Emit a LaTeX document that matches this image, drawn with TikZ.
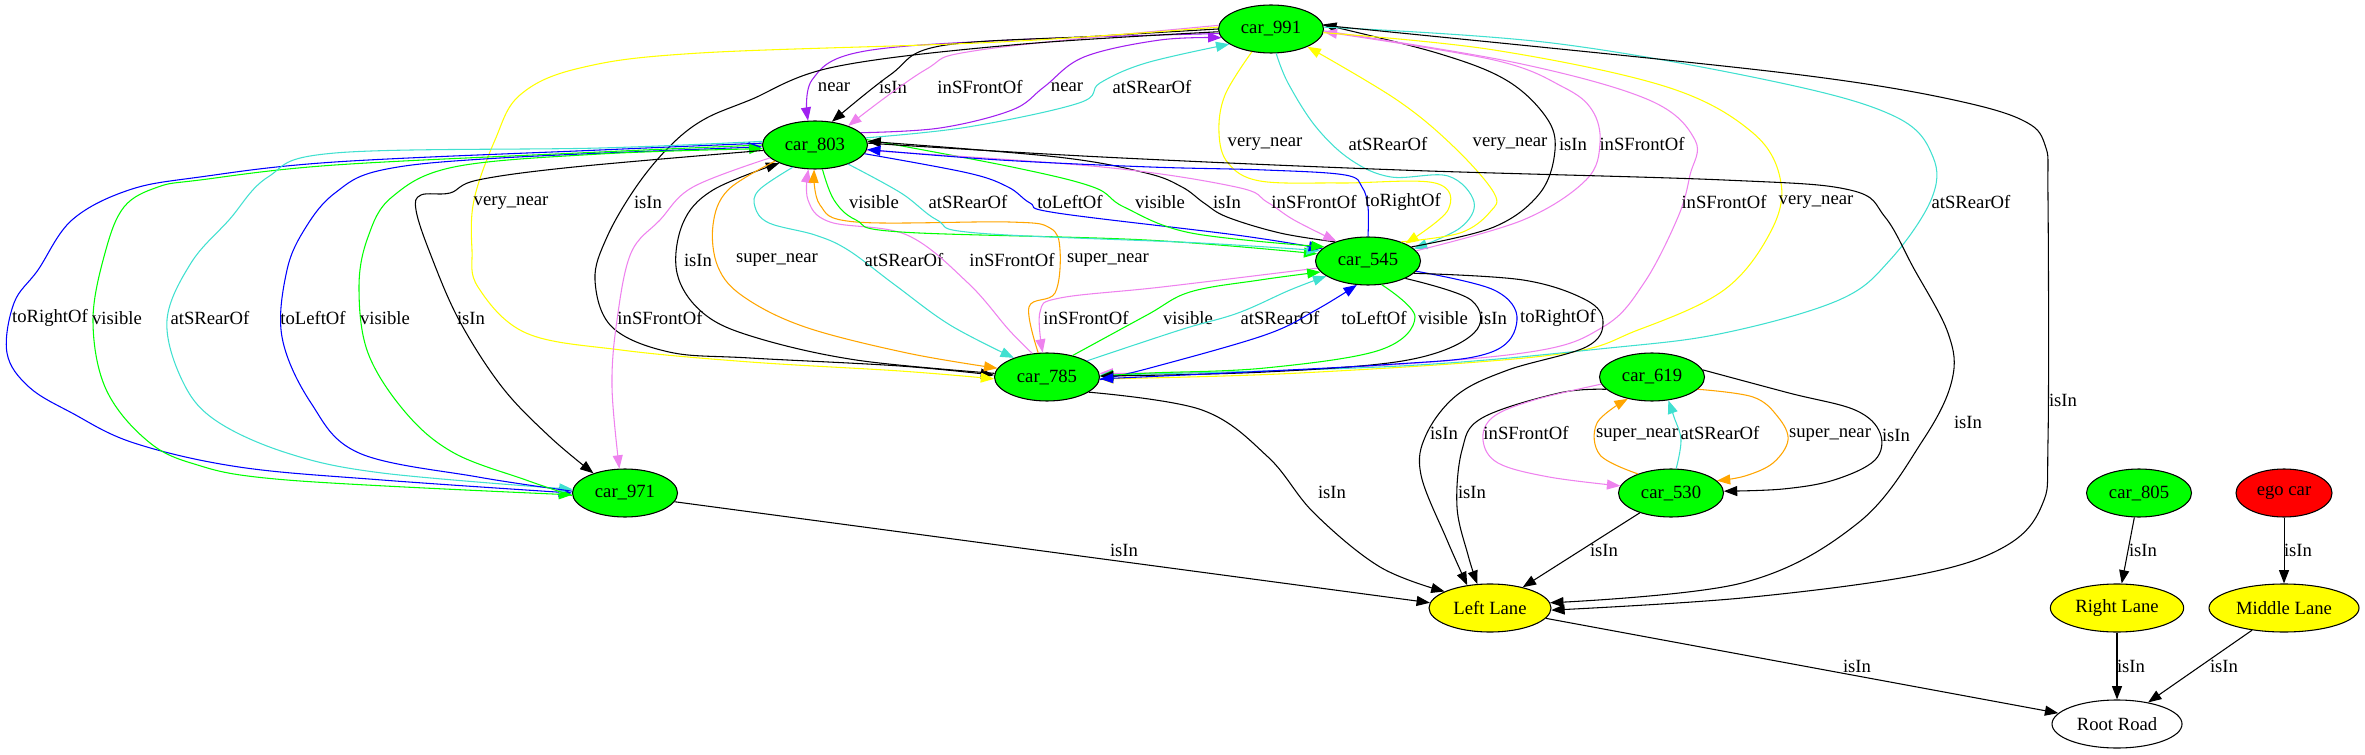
\documentclass[tikz,border=0pt]{standalone}
\usepackage{fontspec}
\setmainfont{Liberation Serif}
\usetikzlibrary{shapes.geometric}
\usetikzlibrary{arrows.meta}
\definecolor{VertAuto}{rgb}{0,1,0}
\definecolor{Jaune}{rgb}{1,1,0}
\definecolor{RougeEgo}{rgb}{1,0,0}
\definecolor{Turquoise}{RGB}{64,224,208}
\definecolor{Violet}{RGB}{238,130,238}
\definecolor{Pourpre}{RGB}{160,32,240}
\definecolor{Orange}{RGB}{255,165,0}
\definecolor{Bleu}{rgb}{0,0,1}
\tikzstyle{noeud}   =[ellipse, draw, line width=0.8pt, minimum height=36pt, inner sep=0pt]
\tikzstyle{voiture} =[noeud, fill=VertAuto, minimum width=78.75pt]
\tikzstyle{voie}    =[noeud, fill=Jaune]
\tikzstyle{lien}    =[-{Triangle[length=10pt,width=7.5pt]}, line width=0.8pt]
\tikzstyle{courbe}  =[smooth, tension=0.6]
\tikzstyle{etiq}    =[inner sep=0pt]
\begin{document}
\begin{tikzpicture}[x=0.75pt, y=-0.75pt, font=\fontsize{14}{16}\selectfont]
 \useasboundingbox (0,0) rectangle (2365,755);
 % les noeuds
 \node[voiture] (c991) at (1271,29) {car\_991};
 \node[voiture] (c803) at (815,145) {car\_803};
 \node[voiture] (c545) at (1368,261) {car\_545};
 \node[voiture] (c785) at (1047,377) {car\_785};
 \node[voiture] (c619) at (1652,377) {car\_619};
 \node[voiture] (c971) at (625,493) {car\_971};
 \node[voiture] (c530) at (1671,493) {car\_530};
 \node[voiture] (c805) at (2139,493) {car\_805};
 \node[noeud, fill=RougeEgo, minimum width=72pt] (ego) at (2284,493) {ego car};
 \node[voie, minimum width=91.5pt] (gauche) at (1490,608) {Left Lane};
 \node[voie, minimum width=100pt] (droite) at (2117,608) {Right Lane};
 \node[voie, minimum width=112.5pt] (milieu) at (2284,608) {Middle Lane};
 \node[noeud, minimum width=97.5pt] (route) at (2117,724) {Root Road};
 % car_991 -- car_803
 \draw[lien,Pourpre] plot[courbe] coordinates {(c991.185) (1012,40) (860,52) (812,80) (c803.106)} node[etiq,black] (t1) at (834,87) {near};
 \draw[lien] plot[courbe] coordinates {(c991.180) (1100,36) (940,46) (890,75) (c803.54)} node[etiq] (t2) at (893,87) {isIn};
 \draw[lien,Violet] plot[courbe] coordinates {(c991.176) (980,50) (925,70) (c803.30)} node[etiq,black] (t3) at (980,87) {inSFrontOf};
 \draw[lien,Pourpre] plot[courbe] coordinates {(c803.15) (940,128) (1012,110) (1044,87) (1084,57) (1160,40) (c991.190)} node[etiq,black] (t4) at (1067,87) {near};
 \draw[lien,Turquoise] plot[courbe] coordinates {(c803.8) (968,127) (1079,103) (1100,83) (1146,63) (c991.200)} node[etiq,black] (t5) at (1152,87) {atSRearOf};
 % car_991 -- car_545
 \draw[lien,Jaune] plot[courbe] coordinates {(c991.230) (1225,95) (1219,133) (1228,163) (1260,181) (1340,183) (1435,183) (1448,210) (c545.25)} node[etiq,black] (t6) at (1265,144) {very\_near};
 \draw[lien,Turquoise] plot[courbe] coordinates {(c991.282) (1288,83) (1316,127) (1351,160) (1391,177) (1448,176) (1474,202) (1460,228) (c545.15)} node[etiq,black] (t7) at (1388,144) {atSRearOf};
 \draw[lien,Jaune] plot[courbe] coordinates {(c545.30) (1460,233) (1490,212) (1494,193) (1454,147) (1397,100) (c991.334)} node[etiq,black] (t8) at (1510,144) {very\_near};
 \draw[lien] plot[courbe] coordinates {(c545.18) (1494,227) (1540,193) (1555,150) (1546,117) (1506,80) (1437,53) (c991.5)} node[etiq] (t9) at (1573,144) {isIn};
 \draw[lien,Violet] plot[courbe] coordinates {(c545.12) (1523,220) (1586,180) (1600,143) (1592,110) (1563,87) (1494,60) (c991.357)} node[etiq,black] (t10) at (1642,144) {inSFrontOf};
 % car_991 -- car_785 et Left Lane
 \draw[lien,Violet] plot[courbe] coordinates {(c991.358) (1517,63) (1649,100) (1695,140) (1690,175) (1678,217) (1644,283) (1603,327) (1523,353) (1300,370) (c785.4)} node[etiq,black] (t11) at (1724,202) {inSFrontOf};
 \draw[lien,Jaune] plot[courbe] coordinates {(c991.356) (1494,50) (1667,87) (1753,133) (1781,183) (1770,233) (1724,290) (1638,330) (1552,355) (1300,373) (c785.358)} node[etiq,black] (t12) at (1816,202) {very\_near};
 \draw[lien,Turquoise] plot[courbe] coordinates {(c991.2) (1552,43) (1781,83) (1896,117) (1933,157) (1931,200) (1890,260) (1839,300) (1724,333) (1609,348) (1400,366) (c785.2)} node[etiq,black] (t13) at (1971,202) {atSRearOf};
 \draw[lien] plot[courbe] coordinates {(c991.4) (1667,60) (1839,80) (1954,100) (2022,120) (2045,145) (2048,200) (2048,440) (2042,505) (2004,547) (1917,575) (1742,598) (gauche.358)} node[etiq] (t14) at (2063,400) {isIn};
 \draw[lien] plot[courbe] coordinates {(c991.183) (1012,45) (834,67) (750,100) (703,120) (669,147) (636,187) (607,237) (595,280) (612,327) (669,352) (750,358) (900,366) (c785.178)} node[etiq] (t15) at (648,202) {isIn};
 \draw[lien,Jaune] plot[courbe] coordinates {(c991.178) (1000,42) (700,53) (580,68) (520,95) (495,140) (474,200) (472,250) (478,287) (526,333) (621,350) (750,362) (900,371) (c785.182)} node[etiq,black] (t16) at (511,203) {very\_near};
 % car_803 -- car_971
 \draw[lien,Bleu] plot[courbe] coordinates {(c803.178) (600,150) (335,162) (200,177) (129,190) (72,220) (38,270) (14,303) (7,353) (29,387) (72,413) (134,443) (239,467) (382,480) (c971.180)} node[etiq,black] (t17) at (50,318) {toRightOf};
 \draw[lien,VertAuto] plot[courbe] coordinates {(c803.180) (600,152) (335,165) (200,180) (158,187) (124,207) (105,253) (93,320) (105,387) (143,437) (191,463) (287,480) (c971.182)} node[etiq,black] (t18) at (117,318) {visible};
 \draw[lien,Turquoise] plot[courbe] coordinates {(c803.176) (600,148) (335,153) (268,177) (229,220) (191,263) (167,320) (182,380) (215,420) (287,453) (382,473) (c971.176)} node[etiq,black] (t19) at (210,318) {atSRearOf};
 \draw[lien,Bleu] plot[courbe] coordinates {(c971.178) (478,477) (359,453) (311,403) (282,337) (287,270) (306,227) (335,193) (382,170) (500,158) (c803.182)} node[etiq,black] (t20) at (313,318) {toLeftOf};
 \draw[lien,VertAuto] plot[courbe] coordinates {(c971.183) (526,480) (454,453) (406,413) (368,353) (359,287) (368,237) (392,197) (454,167) (600,154) (c803.184)} node[etiq,black] (t21) at (385,318) {visible};
 \draw[lien] plot[courbe] coordinates {(c803.186) (574,167) (478,180) (450,193) (421,195) (416,210) (430,253) (459,320) (502,387) (550,437) (c971.148)} node[etiq] (t22) at (471,318) {isIn};
 \draw[lien,Violet] plot[courbe] coordinates {(c803.196) (693,187) (660,220) (631,253) (617,320) (612,387) (c971.103)} node[etiq,black] (t23) at (660,318) {inSFrontOf};
 % car_803 -- car_785
 \draw[lien] plot[courbe] coordinates {(c785.176) (856,360) (754,337) (703,313) (677,273) (683,223) (713,190) (c803.207)} node[etiq] (t24) at (698,260) {isIn};
 \draw[lien,Orange] plot[courbe] coordinates {(c803.202) (728,190) (713,225) (718,267) (744,297) (805,327) (907,353) (c785.170)} node[etiq,black] (t25) at (777,260) {super\_near};
 \draw[lien,Turquoise] plot[courbe] coordinates {(c803.225) (759,190) (755,207) (769,223) (815,235) (848,250) (895,285) (950,325) (c785.150)} node[etiq,black] (t26) at (904,260) {atSRearOf};
 \draw[lien,Violet] plot[courbe] coordinates {(c785.122) (1009,330) (968,283) (907,235) (830,222) (808,200) (c803.255)} node[etiq,black] (t27) at (1012,260) {inSFrontOf};
 \draw[lien,Orange] plot[courbe] coordinates {(c785.110) (1029,307) (1055,293) (1060,250) (1050,228) (1009,222) (856,222) (820,205) (c803.268)} node[etiq,black] (t28) at (1108,260) {super\_near};
 % car_545 -- car_785
 \draw[lien,Violet] plot[courbe] coordinates {(c545.188) (1162,287) (1060,298) (1040,312) (c785.100)} node[etiq,black] (t29) at (1086,318) {inSFrontOf};
 \draw[lien,VertAuto] plot[courbe] coordinates {(c785.40) (1147,315) (1190,292) (1260,280) (c545.193)} node[etiq,black] (t30) at (1188,318) {visible};
 \draw[lien,Turquoise] plot[courbe] coordinates {(c785.22) (1180,330) (1238,313) (1290,290) (c545.200)} node[etiq,black] (t31) at (1280,318) {atSRearOf};
 \draw[lien,Bleu] plot[courbe] coordinates {(c785.357) (1150,368) (1265,335) (1316,310) (c545.245)} node[etiq,black] (t32) at (1374,318) {toLeftOf};
 \draw[lien,VertAuto] plot[courbe] coordinates {(c545.300) (1415,317) (1380,350) (1265,368) (1150,373) (c785.1)} node[etiq,black] (t33) at (1443,318) {visible};
 \draw[lien] plot[courbe] coordinates {(c545.335) (1471,300) (1474,333) (1408,360) (1265,372) (c785.1)} node[etiq] (t34) at (1493,318) {isIn};
 \draw[lien,Bleu] plot[courbe] coordinates {(c545.348) (1494,290) (1517,320) (1489,353) (1380,365) (c785.358)} node[etiq,black] (t35) at (1558,318) {toRightOf};
 % car_803 -- car_545
 \draw[lien,VertAuto] plot[courbe] coordinates {(c803.287) (834,200) (856,220) (901,232) (1146,240) (c545.172)} node[etiq,black] (t36) at (874,202) {visible};
 \draw[lien,Turquoise] plot[courbe] coordinates {(c803.330) (901,193) (937,220) (977,233) (1200,243) (c545.168)} node[etiq,black] (t37) at (968,202) {atSRearOf};
 \draw[lien,Bleu] plot[courbe] coordinates {(c803.350) (968,173) (1008,187) (1030,203) (1057,213) (1236,235) (c545.165)} node[etiq,black] (t38) at (1070,202) {toLeftOf};
 \draw[lien,VertAuto] plot[courbe] coordinates {(c803.6) (1012,167) (1093,187) (1124,207) (1191,233) (c545.162)} node[etiq,black] (t39) at (1160,202) {visible};
 \draw[lien] plot[courbe] coordinates {(c545.150) (1280,233) (1227,217) (1204,203) (1182,187) (1146,173) (1057,157) (c803.4)} node[etiq] (t40) at (1227,202) {isIn};
 \draw[lien,Violet] plot[courbe] coordinates {(c803.354) (1102,167) (1236,187) (1267,202) (1294,220) (c545.148)} node[etiq,black] (t41) at (1314,202) {inSFrontOf};
 \draw[lien,Bleu] plot[courbe] coordinates {(c545.90) (1368,207) (1362,187) (1345,175) (1265,170) (1150,167) (1000,160) (c803.355)} node[etiq,black] (t42) at (1403,202) {toRightOf};
 % vers Left Lane
 \draw[lien] plot[courbe] coordinates {(c803.2) (1102,157) (1400,170) (1724,180) (1850,190) (1885,217) (1913,267) (1948,333) (1952,380) (1923,440) (1858,523) (1742,583) (gauche.5)} node[etiq] (t43) at (1968,422) {isIn};
 \draw[lien] plot[courbe] coordinates {(c545.345) (1523,280) (1586,300) (1603,322) (1586,347) (1508,370) (1457,395) (1426,435) (1421,475) (1447,540) (gauche.135)} node[etiq] (t44) at (1444,433) {isIn};
 \draw[lien] plot[courbe] coordinates {(c785.340) (1202,410) (1268,457) (1314,513) (1380,567) (gauche.160)} node[etiq] (t45) at (1332,492) {isIn};
 \draw[lien] (c971.350) -- (gauche.175) node[etiq] (t46) at (1124,550) {isIn};
 \draw[lien] plot[courbe] coordinates {(c619.195) (1559,393) (1482,418) (1462,450) (1457,507) (1468,555) (gauche.118)} node[etiq] (t47) at (1472,492) {isIn};
 % car_619 -- car_530
 \draw[lien,Violet] plot[courbe] coordinates {(c619.188) (1534,400) (1493,417) (1483,440) (1498,463) (1549,477) (c530.172)} node[etiq,black] (t48) at (1526,433) {inSFrontOf};
 \draw[lien,Orange] plot[courbe] coordinates {(c530.150) (1600,455) (1597,423) (c619.222)} node[etiq,black] (t49) at (1637,435) {super\_near};
 \draw[lien,Turquoise] plot[courbe] coordinates {(c530.78) (1681,440) (1674,417) (c619.305)} node[etiq,black] (t50) at (1720,433) {atSRearOf};
 \draw[lien,Orange] plot[courbe] coordinates {(c619.345) (1753,397) (1778,417) (1788,440) (1773,463) (1745,476) (c530.15)} node[etiq,black] (t51) at (1830,435) {super\_near};
 \draw[lien] plot[courbe] coordinates {(c619.8) (1789,393) (1855,410) (1880,433) (1875,460) (1834,480) (1783,489) (c530.2)} node[etiq] (t52) at (1896,435) {isIn};
 \draw[lien] (c530) -- (gauche) node[etiq] (t53) at (1604,550) {isIn};
 % voies et route
 \draw[lien] (c805) -- (droite) node[etiq] (t54) at (2143,550) {isIn};
 \draw[lien] (ego) -- (milieu) node[etiq] (t55) at (2298,550) {isIn};
 \draw[lien] (gauche) -- (route) node[etiq] (t56) at (1857,666) {isIn};
 \draw[lien] (droite) -- (route) node[etiq] (t57) at (2131,666) {isIn};
 \draw[lien] (milieu) -- (route) node[etiq] (t58) at (2224,666) {isIn};
\end{tikzpicture}
\end{document}
